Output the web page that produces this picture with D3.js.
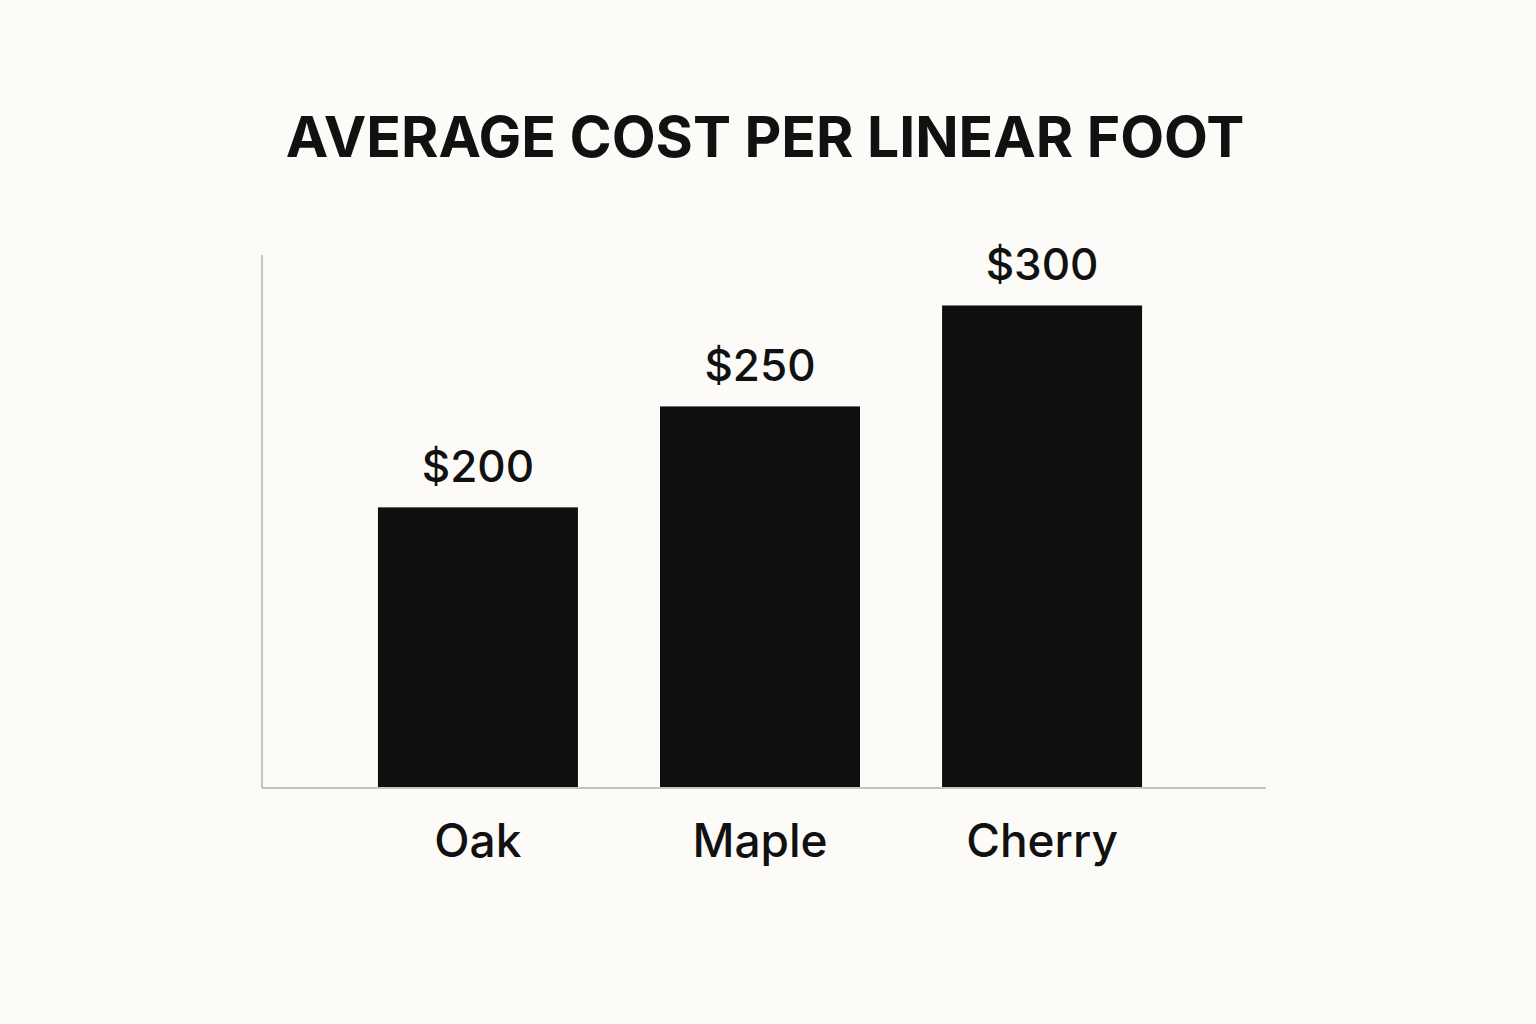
<!DOCTYPE html>
<html>
<head>
<meta charset="utf-8">
<script src="https://cdn.jsdelivr.net/npm/d3@7"></script>
<style>
  body { margin: 0; background: #fcfbf8; }
  svg { display: block; }
</style>
</head>
<body>
<svg id="chart" width="1536" height="1024"></svg>
<script>
let woods = ["Oak", "Maple", "Cherry"];
let costs = [200, 250, 300];
let title = "AVERAGE COST PER LINEAR FOOT";

let svg = d3.select("#chart");

let xScale = d3.scaleBand()
  .domain(woods)
  .range([262, 1258])
  .paddingInner(0.291)
  .paddingOuter(0.411);

let yScale = d3.scaleLinear()
  .domain([61, 325])
  .range([788, 255]);

svg.append("rect")
  .attr("width", 1536)
  .attr("height", 1024)
  .attr("fill", "#fcfbf8");

svg.append("text")
  .text(title)
  .attr("x", 765)
  .attr("y", 157)
  .attr("text-anchor", "middle")
  .attr("font-family", "Inter, sans-serif")
  .attr("font-weight", 700)
  .attr("font-size", 57)
  .attr("fill", "#111");

// axis lines
svg.append("line")
  .attr("x1", 262).attr("x2", 262)
  .attr("y1", yScale(325)).attr("y2", yScale(61))
  .attr("stroke", "#c4c4c4")
  .attr("stroke-width", 2);

svg.append("line")
  .attr("x1", 262).attr("x2", 1266)
  .attr("y1", yScale(61)).attr("y2", yScale(61))
  .attr("stroke", "#c4c4c4")
  .attr("stroke-width", 2);

let bars = svg.selectAll(".bar")
  .data(woods)
  .enter()
  .append("g")
  .attr("class", "bar");

bars.append("rect")
  .attr("x", (d) => xScale(d))
  .attr("y", (d, i) => yScale(costs[i]))
  .attr("width", xScale.bandwidth())
  .attr("height", (d, i) => yScale(61) - yScale(costs[i]) - 1)
  .attr("fill", "#0f0f0f");

bars.append("text")
  .text((d, i) => "$" + costs[i])
  .attr("x", (d) => xScale(d) + xScale.bandwidth() / 2)
  .attr("y", (d, i) => yScale(costs[i]) - 25)
  .attr("text-anchor", "middle")
  .attr("font-family", "Inter, sans-serif")
  .attr("font-weight", 500)
  .attr("font-size", 44)
  .attr("fill", "#111");

bars.append("text")
  .text((d) => d)
  .attr("x", (d) => xScale(d) + xScale.bandwidth() / 2)
  .attr("y", 857)
  .attr("text-anchor", "middle")
  .attr("font-family", "Inter, sans-serif")
  .attr("font-weight", 500)
  .attr("font-size", 46)
  .attr("fill", "#111");
</script>
</body>
</html>
